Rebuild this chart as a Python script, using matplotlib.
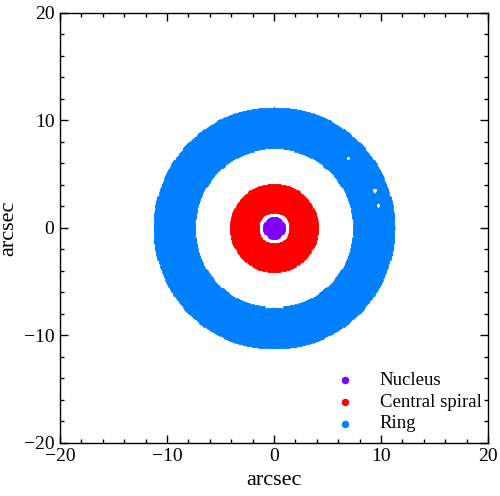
import numpy as np
import matplotlib
matplotlib.use("Agg")
import matplotlib.pyplot as plt
from matplotlib.ticker import MultipleLocator

plt.rcParams['font.family'] = ['Liberation Serif', 'DejaVu Serif']
plt.rcParams['mathtext.fontset'] = 'stix'

# Region definitions (arcsec): inner and outer radii of each component
labels = ["Nucleus", "Central spiral", "Ring"]
colors = ["#8000ff", "#ff0000", "#0080ff"]
r_inner = [0.0, 1.5, 7.45]
r_outer = [0.95, 4.05, 11.2]
pixel_step = 0.1
# small gaps (bad pixels) in the ring, arcsec
hole_x = [6.9, 9.4, 9.7]
hole_y = [6.5, 3.5, 2.1]

fig = plt.figure(figsize=(5.0, 4.96), dpi=100)
ax = fig.add_axes([0.12, 0.107, 0.856, 0.867])

g = np.arange(-12, 12 + 1e-9, pixel_step)
X, Y = np.meshgrid(g, g)
X = X.ravel(); Y = Y.ravel()
R = np.hypot(X, Y)

for lab, c, ri, ro in zip(labels, colors, r_inner, r_outer):
    m = (R >= ri) & (R <= ro)
    if lab == "Ring":
        for hx, hy in zip(hole_x, hole_y):
            m &= np.hypot(X - hx, Y - hy) > 0.25
    ax.scatter(X[m], Y[m], s=4, c=c, marker='o', linewidths=0, label=lab)

ax.set_xlim(-20, 20)
ax.set_ylim(-20, 20)
ax.xaxis.set_major_locator(MultipleLocator(10))
ax.yaxis.set_major_locator(MultipleLocator(10))
ax.xaxis.set_minor_locator(MultipleLocator(2))
ax.yaxis.set_minor_locator(MultipleLocator(2))
ax.tick_params(which='both', direction='in', top=True, right=True, labelsize=14)
ax.tick_params(which='major', length=6, width=1, pad=4)
ax.tick_params(which='minor', length=3, width=1)
ax.set_xlabel("arcsec", fontsize=16, labelpad=4)
ax.set_ylabel("arcsec", fontsize=16, labelpad=4)
for sp in ax.spines.values():
    sp.set_linewidth(1)

leg = ax.legend(loc='lower right', bbox_to_anchor=(1.0, 0.009), frameon=False,
                fontsize=13.5, markerscale=2.7,
                handletextpad=1.35, labelspacing=0.25, borderaxespad=0.1,
                borderpad=0.25, handlelength=1.0)

fig.savefig("out.png", dpi=100)
